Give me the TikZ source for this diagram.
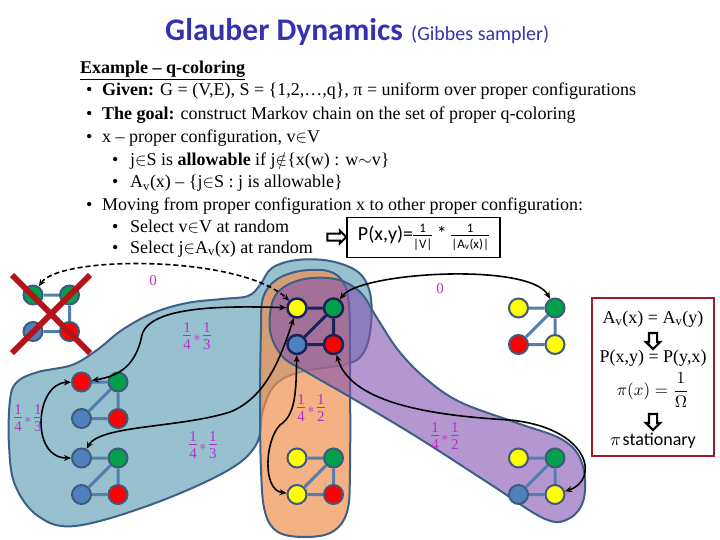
\documentclass[tikz,border=0pt]{standalone}
\usepackage{fontspec}
\setmainfont{Liberation Serif}
\newfontfamily\calib{Carlito}
\usetikzlibrary{arrows.meta,shapes.arrows}
\definecolor{ttl}{RGB}{51,51,178}
\definecolor{gy}{RGB}{255,255,0}
\definecolor{gg}{RGB}{0,160,76}
\definecolor{gr}{RGB}{255,0,0}
\definecolor{gb}{RGB}{79,129,189}
\definecolor{gedge}{RGB}{84,125,176}
\definecolor{gbord}{RGB}{62,90,125}
\definecolor{navy}{RGB}{25,35,90}
\definecolor{blobline}{RGB}{60,96,135}
\definecolor{blueF}{RGB}{152,193,208}
\definecolor{orangeF}{RGB}{239,144,78}
\definecolor{purpleF}{RGB}{130,82,177}
\definecolor{lab}{RGB}{180,50,200}
\definecolor{xred}{RGB}{180,20,25}
\definecolor{boxred}{RGB}{160,30,35}
\newcommand\pfr[2]{\begin{tabular}{@{}c@{}}#1\\[-2pt]\hline\rule{0pt}{1.0em}#2\end{tabular}}
\newcommand\mygraph[8]{%
  \node[gn#8, fill=#4] (#1TL) at (#2,#3) {};
  \node[gn#8, fill=#5] (#1TR) at (#2+36.5,#3) {};
  \node[gn#8, fill=#6] (#1BL) at (#2,#3+36.5) {};
  \node[gn#8, fill=#7] (#1BR) at (#2+36.5,#3+36.5) {};
  \draw[ge#8] (#1TL)--(#1TR) (#1TR)--(#1BR) (#1BL)--(#1BR) (#1TR)--(#1BL);
}
\begin{document}
\begin{tikzpicture}[x=1pt,y=-1pt,
  gn/.style={circle, minimum size=19pt, inner sep=0pt, draw=gbord, line width=2pt},
  gnc/.style={circle, minimum size=19pt, inner sep=0pt, draw=navy, line width=2.5pt},
  ge/.style={draw=gedge, line width=3pt},
  gec/.style={draw=navy, line width=3pt},
  blob/.style={draw=blobline, line width=2pt},
  arr/.style={line width=1.6pt, {Stealth[length=7pt,width=6pt]}-{Stealth[length=7pt,width=6pt]}},
  txt/.style={anchor=base west, inner sep=0pt, font=\fontsize{18}{20}\selectfont},
  bul/.style={anchor=base west, inner sep=0pt, font=\fontsize{18}{20}\selectfont},
  lbl/.style={text=lab, inner sep=0pt, font=\fontsize{15}{15}\selectfont},
  zero/.style={text=lab, inner sep=0pt, font=\fontsize{15}{15}\selectfont},
  rt/.style={inner sep=0pt, font=\fontsize{18}{20}\selectfont},
  darr/.style={single arrow, draw=black, fill=white, line width=2.2pt, shape border rotate=270,
     minimum height=16pt, inner sep=3pt, single arrow head extend=3pt},
  xline/.style={draw=xred, line width=6pt}
]
\useasboundingbox (0,0) rectangle (720,540);
% title
\node[anchor=base west, inner sep=0pt, text=ttl, font=\calib\bfseries\fontsize{31.5}{33}\selectfont] (title) at (165,41) {Glauber Dynamics};
\node[anchor=base west, inner sep=0pt, text=ttl, font=\calib\fontsize{20}{22}\selectfont] (subt) at (411,41) {(Gibbes sampler)};
% text block
\node[txt] (t0) at (80,74) {\textbf{\underline{Example – q-coloring}}};
\node[bul] (b1) at (86,96) {•};
\node[txt] (t1) at (102,96) {\textbf{Given:} G = (V,E), S = \{1,2,…,q\}, π = uniform over proper configurations};
\node[bul] (b2) at (86,120) {•};
\node[txt] (t2) at (102,120) {\textbf{The goal:} construct Markov chain on the set of proper q-coloring};
\node[bul] (b3) at (86,143) {•};
\node[txt] (t3) at (102,143) {x – proper configuration, v$\in$V};
\node[bul] (b4) at (112,166) {•};
\node[txt] (t4) at (130,166) {j$\in$S is \textbf{allowable} if j$\notin$\{x(w) : w$\sim$v\}};
\node[bul] (b5) at (112,188) {•};
\node[txt] (t5) at (130,188) {A\textsubscript{v}(x) – \{j$\in$S : j is allowable\}};
\node[bul] (b6) at (86,211) {•};
\node[txt] (t6) at (102,211) {Moving from proper configuration x to other proper configuration:};
\node[bul] (b7) at (112,233) {•};
\node[txt] (t7) at (130,233) {Select v$\in$V at random};
\node[bul] (b8) at (112,253) {•};
\node[txt] (t8) at (130,253) {Select j$\in$A\textsubscript{v}(x) at random};
\node[single arrow, draw=black, fill=white, line width=2pt, minimum height=19pt, inner sep=2.5pt, single arrow head extend=3pt] (ra) at (335,237) {};
\node[draw=black, line width=1.5pt, minimum width=153pt, minimum height=40pt, inner sep=2pt, font=\calib] (fb) at (423.5,237.5)
  {\fontsize{20}{22}\selectfont P(x,y)={\fontsize{13}{14}\selectfont\pfr{1}{|V|}} * {\fontsize{13}{14}\selectfont\pfr{1}{|A\textsubscript{v}(x)|}}};
% blobs
\filldraw[blob, fill=blueF] plot[smooth cycle, tension=0.6] coordinates {(297,260) (330,261) (358,272) (370,293) (371,325) (364,352) (347,364) (300,372) (275,385) (263,410) (256,445) (225,472) (150,505) (75,526) (38,516) (15,485) (9,445) (10,400) (17,382) (38,372) (72,365) (97,350) (122,330) (153,313) (187,303) (222,299) (248,296) (260,285) (272,268)};
\filldraw[blob, fill=orangeF, fill opacity=0.7] plot[smooth cycle, tension=0.6] coordinates {(261,330) (263,298) (276,280) (300,271) (328,271) (343,282) (349,305) (350,360) (350,470) (347,512) (332,532) (305,537) (278,532) (265,512) (261,470) (260,400)};
\filldraw[blob, fill=purpleF, fill opacity=0.6] plot[smooth cycle, tension=0.6] coordinates {(270,330) (275,296) (300,280) (335,279) (360,292) (377,318) (398,350) (425,378) (460,402) (517,423) (563,440) (582,463) (584,498) (570,518) (545,519) (490,484) (417,437) (350,397) (303,370) (282,356)};
% graphs
\mygraph{x}{33}{295}{gg}{gg}{gb}{gr}{}
\mygraph{a}{81.5}{382}{gr}{gg}{gb}{gr}{}
\mygraph{b}{81.5}{458}{gb}{gg}{gb}{gr}{}
\mygraph{c}{297}{308}{gy}{gg}{gb}{gr}{c}
\mygraph{r}{518.5}{308}{gy}{gg}{gr}{gy}{}
\mygraph{o}{297}{458}{gy}{gg}{gy}{gr}{}
\mygraph{p}{518.5}{458}{gy}{gg}{gb}{gy}{}
% cross
\draw[xline] (12,275) -- (90,353);
\draw[xline] (90,275) -- (12,353);
% arrows
\draw[arr, dash pattern=on 5pt off 3pt] (xTL) .. controls (60,255) and (240,255) .. (cTL);
\draw[arr] (cTR) .. controls (360,272) and (530,262) .. (rTR);
\draw[arr] (cTL) .. controls (230,306) and (150,305) .. (142,335) .. controls (136,365) and (120,376) .. (aTL);
\draw[arr] (aTL) .. controls (35,383) and (30,458) .. (bTL);
\draw[arr] (bTL) .. controls (100,425) and (180,428) .. (230,412) .. controls (265,398) and (280,360) .. (cTL);
\draw[arr] (cBL) .. controls (296,390) and (296,415) .. (280,425) .. controls (265,440) and (262,490) .. (oBL);
\draw[arr] (cBR) .. controls (350,400) and (420,415) .. (510,420) .. controls (590,428) and (600,480) .. (pBR);
% labels
\node[zero] (z1) at (153,281) {0};
\node[zero] (z2) at (440,289) {0};
\node[lbl] (l1) at (197,338) {\pfr{1}{4}\,$*$\,\pfr{1}{3}};
\node[lbl] (l2) at (28,420) {\pfr{1}{4}\,$*$\,\pfr{1}{3}};
\node[lbl] (l3) at (203,447) {\pfr{1}{4}\,$*$\,\pfr{1}{3}};
\node[lbl] (l4) at (311,410) {\pfr{1}{4}\,$*$\,\pfr{1}{2}};
\node[lbl] (l5) at (445,438) {\pfr{1}{4}\,$*$\,\pfr{1}{2}};
% right box
\draw[boxred, line width=2pt] (592,298) rectangle (714,456);
\node[rt] (r1) at (653,319) {A\textsubscript{v}(x) = A\textsubscript{v}(y)};
\node[darr] (da1) at (653,339) {};
\node[rt] (r2) at (653,358) {P(x,y) = P(y,x)};
\node[inner sep=0pt, font=\fontsize{10}{12}\selectfont] (r3) at (653,390) {\scalebox{1.7}{$\pi(x) = \displaystyle\frac{1}{\Omega}$}};
\node[darr] (da2) at (653,420) {};
\node[inner sep=0pt, font=\fontsize{10}{12}\selectfont] (r4) at (653,441) {\scalebox{1.8}{$\pi$}\,{\calib\fontsize{18}{20}\selectfont stationary}};
\end{tikzpicture}
\end{document}
